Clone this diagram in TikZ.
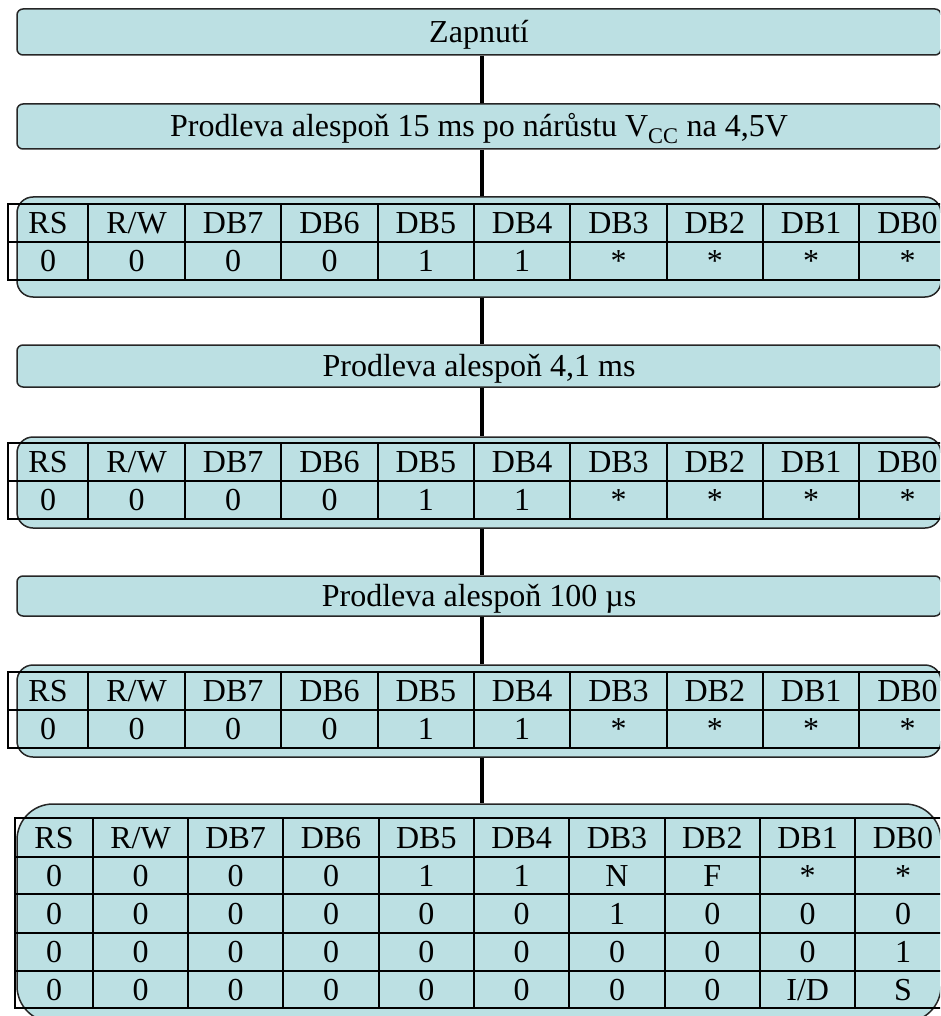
\documentclass[tikz,border=0pt]{standalone}
\usepackage{fontspec}
\setmainfont{Liberation Serif}
\definecolor{boxfill}{HTML}{BCE0E3}
\newcommand{\bittable}[2]{%
  \draw[grid] (8,#2) rectangle (955.6,{#2+76});
  \draw[grid] (8,{#2+38}) -- (955.6,{#2+38});
  \foreach \xa in {88,185,281.3,377.6,474,570.3,666.6,763,859.3}
    \draw[grid] (\xa,#2) -- (\xa,{#2+76});
  \foreach \c/\t [count=\i] in {48/RS,136.5/{R/W},233.2/DB7,329.5/DB6,425.8/DB5,522.2/DB4,618.5/DB3,714.8/DB2,811.2/DB1,907.5/DB0}
    \node[cell] (#1h\i) at (\c,{#2+29.6}) {\t};
  \foreach \c/\t [count=\i] in {48/0,136.5/0,233.2/0,329.5/0,425.8/1,522.2/1,618.5/*,714.8/*,811.2/*,907.5/*}
    \node[cell] (#1v\i) at (\c,{#2+67.6}) {\t};
}
\begin{document}
\begin{tikzpicture}[x=1pt,y=-1pt,
  box/.style={draw=black!85, line width=1.5pt, fill=boxfill, rounded corners=6pt,
    minimum width=924pt, inner sep=0pt, text height=21pt, text depth=0pt,
    font=\fontsize{32}{38}\selectfont},
  tbox/.style={box, rounded corners=16pt},
  conn/.style={line width=4pt, black},
  grid/.style={line width=2pt, black},
  cell/.style={anchor=base, inner sep=0pt, font=\fontsize{32}{38}\selectfont}]
\useasboundingbox (0,0) rectangle (940,1016);
\clip (0,0) rectangle (940,1016);
% boxes
\node[box, minimum height=46pt] (z1) at (479,32) {Zapnutí};
\node[box, minimum height=45pt] (p1) at (479,126.5) {Prodleva alespoň 15 ms po nárůstu V\textsubscript{CC} na 4,5V};
\node[tbox, minimum height=100pt] (t1) at (479,247) {};
\node[box, minimum height=42pt] (p2) at (479,366) {Prodleva alespoň 4,1 ms};
\node[tbox, minimum height=91pt] (t2) at (479,482.5) {};
\node[box, minimum height=40pt] (p3) at (479,596) {Prodleva alespoň 100 µs};
\node[tbox, minimum height=92pt] (t3) at (479,711) {};
\node[box, rounded corners=36pt, minimum height=218pt] (t4) at (479,913) {};
% connectors
\draw[conn] ([xshift=3pt]z1.south) -- ([xshift=3pt]p1.north);
\draw[conn] ([xshift=3pt]p1.south) -- ([xshift=3pt]t1.north);
\draw[conn] ([xshift=3pt]t1.south) -- ([xshift=3pt]p2.north);
\draw[conn] ([xshift=3pt]p2.south) -- ([xshift=3pt]t2.north);
\draw[conn] ([xshift=3pt]t2.south) -- ([xshift=3pt]p3.north);
\draw[conn] ([xshift=3pt]p3.south) -- ([xshift=3pt]t3.north);
\draw[conn] ([xshift=3pt]t3.south) -- ([xshift=3pt]t4.north);
% small tables
\bittable{a}{204}
\bittable{b}{443}
\bittable{c}{672}
% big table
\draw[grid] (15,818) rectangle (950.6,1008);
\foreach \ya in {857,894,933,971}
  \draw[grid] (15,\ya) -- (950.6,\ya);
\foreach \xa in {93,188,283.3,378.6,474,569.3,664.6,760,855.3}
  \draw[grid] (\xa,818) -- (\xa,1008);
\foreach \c/\t [count=\i] in {54/RS,140.5/{R/W},235.7/DB7,331/DB6,426.3/DB5,521.7/DB4,617/DB3,712.3/DB2,807.7/DB1,903/DB0}
  \node[cell] (dh\i) at (\c,848) {\t};
\foreach \c/\t [count=\i] in {54/0,140.5/0,235.7/0,331/0,426.3/1,521.7/1,617/N,712.3/F,807.7/*,903/*}
  \node[cell] (da\i) at (\c,886) {\t};
\foreach \c/\t [count=\i] in {54/0,140.5/0,235.7/0,331/0,426.3/0,521.7/0,617/1,712.3/0,807.7/0,903/0}
  \node[cell] (db\i) at (\c,924) {\t};
\foreach \c/\t [count=\i] in {54/0,140.5/0,235.7/0,331/0,426.3/0,521.7/0,617/0,712.3/0,807.7/0,903/1}
  \node[cell] (dc\i) at (\c,962.5) {\t};
\foreach \c/\t [count=\i] in {54/0,140.5/0,235.7/0,331/0,426.3/0,521.7/0,617/0,712.3/0,807.7/{I/D},903/S}
  \node[cell] (dd\i) at (\c,1000) {\t};
\end{tikzpicture}
\end{document}
